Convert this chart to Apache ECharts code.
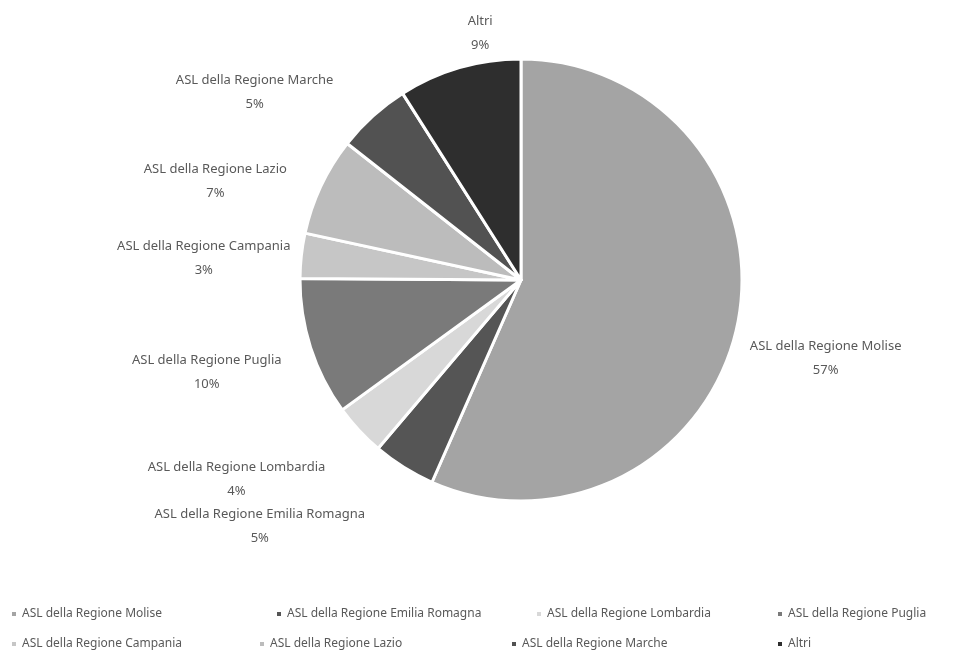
<!DOCTYPE html>
<html>
<head>
<meta charset="utf-8">
<script src="https://cdn.jsdelivr.net/npm/echarts@6/dist/echarts.min.js"></script>
<style>
  html, body { margin: 0; padding: 0; background: #fff; }
  #chart { width: 971px; height: 654px; }
</style>
</head>
<body>
<div id="chart"></div>
<script>
// categories and shares (percent), clockwise from 12 o'clock
const categories = [
  'ASL della Regione Molise',
  'ASL della Regione Emilia Romagna',
  'ASL della Regione Lombardia',
  'ASL della Regione Puglia',
  'ASL della Regione Campania',
  'ASL della Regione Lazio',
  'ASL della Regione Marche',
  'Altri'
];
const shares = [56.6, 4.6, 3.8, 10.1, 3.3, 7.2, 5.4, 9.0];
const sliceColors = ['#a4a4a4', '#555555', '#d8d8d8', '#7a7a7a', '#c6c6c6', '#bcbcbc', '#525252', '#2e2e2e'];

// legend placement (two rows of four, like the original)
const legendLeft = [10, 275, 535, 776, 10, 258, 510, 776];
const legendTop = [608, 608, 608, 608, 638, 638, 638, 638];

// small label nudges, Excel "best fit" style placement
const labelNudge = [[-7, 24], [-44, 22], [-19, 19], [-10, 11], [9, 7], [-16, 14], [-26, 9], [32, 8]];

const center = [521, 280];
const radius = 221;

const chart = echarts.init(document.getElementById('chart'));

const total = shares.reduce((a, b) => a + b, 0);
const midAngle = shares.map((v, i) => {
  const before = shares.slice(0, i).reduce((a, b) => a + b, 0);
  return (before + v / 2) / total * Math.PI * 2;
});

const option = {
  backgroundColor: '#fff',
  textStyle: { fontFamily: 'Noto Sans' },
  legend: categories.map((name, i) => ({
    data: [name],
    left: legendLeft[i],
    top: legendTop[i],
    icon: 'rect',
    itemWidth: 6,
    itemHeight: 6,
    itemGap: 0,
    padding: 0,
    selectedMode: false,
    textStyle: { color: '#595959', fontSize: 12, fontFamily: 'Noto Sans' }
  })),
  series: [{
    type: 'pie',
    center: center,
    radius: radius,
    startAngle: 90,
    clockwise: true,
    percentPrecision: 0,
    animation: false,
    itemStyle: { borderColor: '#fff', borderWidth: 3 },
    label: {
      show: true,
      position: 'outside',
      formatter: '{b}\n{d}%',
      color: '#595959',
      fontSize: 13,
      lineHeight: 24,
      fontFamily: 'Noto Sans'
    },
    labelLine: { show: false, length: 10, length2: 0 },
    labelLayout: function (params) {
      const i = params.dataIndex;
      const a = midAngle[i];
      const dx = Math.sin(a);
      const dy = -Math.cos(a);
      const r = radius + 20;
      const w = params.labelRect.width;
      const h = params.labelRect.height;
      const k = Math.max(-1, Math.min(1, dx * 1.6));
      return {
        x: center[0] + dx * r + k * w / 2 + labelNudge[i][0],
        y: center[1] + dy * r + dy * h / 2 + labelNudge[i][1],
        align: 'center',
        verticalAlign: 'middle'
      };
    },
    data: categories.map((name, i) => ({
      name: name,
      value: shares[i],
      itemStyle: { color: sliceColors[i] }
    }))
  }]
};

chart.setOption(option);
</script>
</body>
</html>
